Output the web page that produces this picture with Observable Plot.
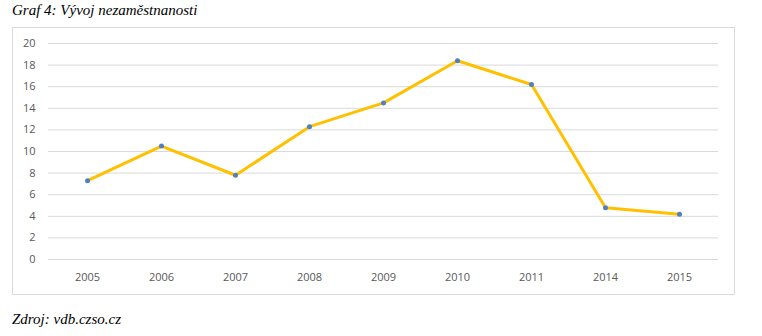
<!DOCTYPE html>
<html>
<head>
<meta charset="utf-8">
<script src="https://cdn.jsdelivr.net/npm/d3@7"></script>
<script src="https://cdn.jsdelivr.net/npm/@observablehq/plot@0.6"></script>
<style>
  body { margin: 0; background: #fff; }
  #page { position: relative; width: 762px; height: 336px; overflow: hidden; }
  .note { position: absolute; left: 12px; font-family: "Liberation Serif", "Times New Roman", serif; font-style: italic; font-size: 15px; color: #000; white-space: nowrap; }
  #box { position: absolute; left: 12px; top: 27px; width: 721px; height: 266px; border: 1px solid #D9D9D9; }
  #chart { position: absolute; left: 0; top: 0; }
</style>
</head>
<body>
<div id="page">
  <div class="note" style="top:2px;">Graf 4: Vývoj nezaměstnanosti</div>
  <div id="box"></div>
  <div id="chart"></div>
  <div class="note" style="top:311px;">Zdroj: vdb.czso.cz</div>
</div>
<script>
const years = ["2005", "2006", "2007", "2008", "2009", "2010", "2011", "2014", "2015"];
const values = [7.3, 10.5, 7.8, 12.3, 14.5, 18.4, 16.2, 4.8, 4.2];
const yTicks = [0, 2, 4, 6, 8, 10, 12, 14, 16, 18, 20];

const data = years.map((year, i) => ({year, value: values[i]}));

const chart = Plot.plot({
  width: 762,
  height: 336,
  marginLeft: 48,
  marginRight: 44,
  marginTop: 43,
  marginBottom: 77,
  style: {fontFamily: "'Open Sans', 'Liberation Sans', sans-serif", fontSize: "11px", color: "#595959", background: "transparent"},
  x: {type: "band", domain: years, padding: 0, label: null, tickSize: 0, tickPadding: 14},
  y: {domain: [0, 20], ticks: yTicks, label: null, tickSize: 0, tickPadding: 13},
  marks: [
    Plot.gridY(yTicks, {stroke: "#D9D9D9", strokeOpacity: 1, strokeWidth: 1}),
    Plot.axisY(yTicks, {tickSize: 0, tickPadding: 13, fill: "#595959"}),
    Plot.axisX({tickSize: 0, tickPadding: 14, fill: "#595959"}),
    Plot.line(data, {x: "year", y: "value", stroke: "#FFC000", strokeWidth: 3}),
    Plot.dot(data, {x: "year", y: "value", r: 2.5, fill: "#4F7FBF", stroke: "none"})
  ]
});
document.getElementById("chart").appendChild(chart);
</script>
</body>
</html>
